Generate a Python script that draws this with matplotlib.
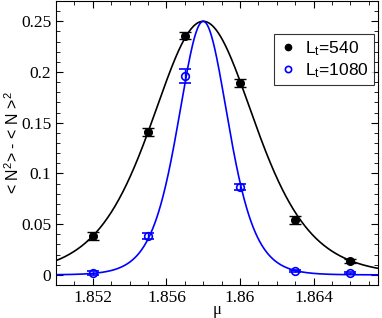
import numpy as np
import matplotlib
matplotlib.use('Agg')
import matplotlib.pyplot as plt
from matplotlib.ticker import MultipleLocator
from matplotlib.lines import Line2D

# measured points
mu = [1.852, 1.855, 1.857, 1.860, 1.863, 1.866]
var_540 = [0.038, 0.141, 0.236, 0.189, 0.054, 0.014]
err_540 = [0.004, 0.004, 0.0035, 0.004, 0.004, 0.002]
var_1080 = [0.002, 0.038, 0.196, 0.087, 0.004, 0.002]
err_1080 = [0.002, 0.003, 0.0065, 0.003, 0.001, 0.001]

# two-state fit: p(1-p), p = 1/(1+exp(-a (mu - mu_c)))
mu_c = 1.858
a_540 = 530.0
a_1080 = 1090.0

def fit(x, a):
    return 0.25 / np.cosh(a * (x - mu_c) / 2.0) ** 2

plt.rcParams['font.family'] = 'Liberation Serif'
plt.rcParams['mathtext.fontset'] = 'custom'
plt.rcParams['mathtext.rm'] = 'Liberation Sans'
plt.rcParams['mathtext.it'] = 'Liberation Sans'

fig = plt.figure(figsize=(3.82, 3.18), dpi=100)
ax = fig.add_axes([0.1466, 0.1038, 0.843, 0.893])

xs = np.linspace(1.85, 1.8675, 600)
ax.plot(xs, fit(xs, a_540), color='black', lw=1.2)
ax.plot(xs, fit(xs, a_1080), color='#0000ff', lw=1.2)

ax.errorbar(mu, var_540, yerr=err_540, fmt='o', color='black', ms=5.5,
            capsize=4, elinewidth=1, capthick=1)
ax.errorbar(mu, var_1080, yerr=err_1080, fmt='o', color='#0000ff', ms=5.5,
            mfc='none', mew=1.2, capsize=4, elinewidth=1, capthick=1)

ax.set_xlim(1.85, 1.8675)
ax.set_ylim(-0.01, 0.27)
ax.xaxis.set_minor_locator(MultipleLocator(0.001))
ax.yaxis.set_minor_locator(MultipleLocator(0.01))
ax.set_xticks([1.852, 1.856, 1.86, 1.864])
ax.set_xticklabels(['1.852', '1.856', '1.86', '1.864'])
ax.set_yticks([0, 0.05, 0.1, 0.15, 0.2, 0.25])
ax.set_yticklabels(['0', '0.05', '0.1', '0.15', '0.2', '0.25'])
ax.tick_params(which='both', direction='in', top=True, right=True, labelsize=12.5)
ax.tick_params(which='major', length=5)
ax.tick_params(which='minor', length=3)

ax.set_xlabel('\u03bc', fontsize=12, labelpad=-3)
ax.set_ylabel('< N$^2$> - < N >$^2$', fontsize=11.5, family='Liberation Sans', labelpad=-1)

handles = [
    Line2D([], [], ls='none', marker='o', color='black', ms=4.5),
    Line2D([], [], ls='none', marker='o', color='#0000ff', mfc='none', mew=1.2, ms=4.5),
]
leg = ax.legend(handles, ['L$_t$=540', 'L$_t$=1080'], loc='upper right',
                bbox_to_anchor=(0.988, 0.884), frameon=True,
                fancybox=False, edgecolor='black', handletextpad=0.5,
                handlelength=1.0, borderpad=0.3, labelspacing=0.2,
                borderaxespad=0, prop={'family': 'Liberation Sans', 'size': 12.5})
leg.get_frame().set_linewidth(0.8)

fig.savefig('out.png', dpi=100)
